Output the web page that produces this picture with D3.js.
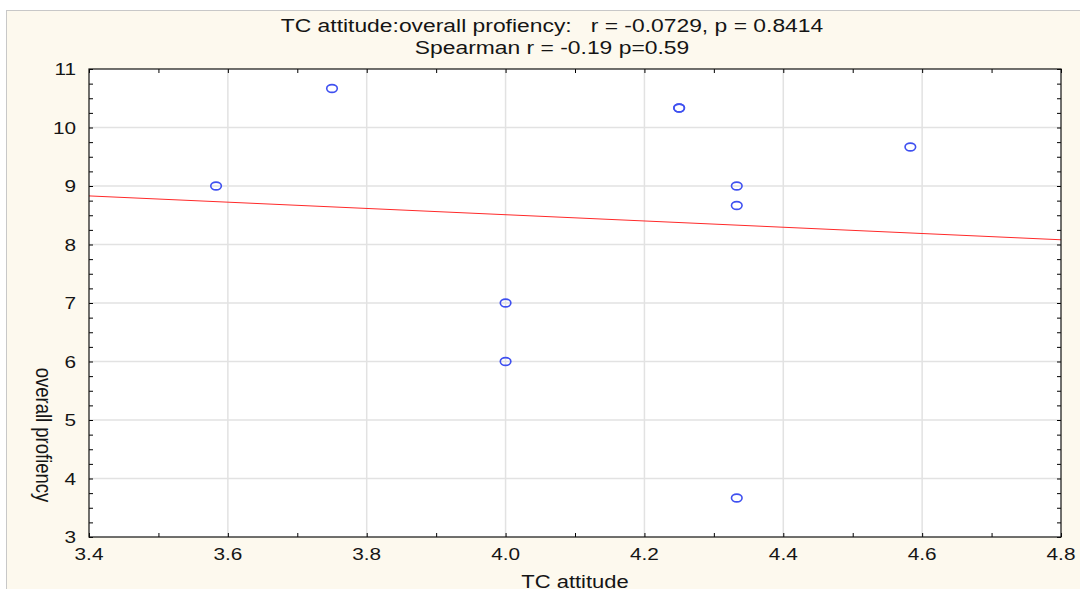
<!DOCTYPE html>
<meta charset="utf-8">
<head>
  <title>TC attitude vs overall profiency</title>
</head>
<style>
  body { margin: 0; background: #fff; }
  text { font-family: "Liberation Sans", Arial, sans-serif; fill: #151515; white-space: pre; }
</style>
<body>
  <div id="my_dataviz"></div>
  <script src="https://d3js.org/d3.v7.min.js"></script>
  <script>

  // data (10 subjects, one point drawn twice)
  var tcAttitude = [3.583, 3.75, 4.25, 4.25, 4.583, 4.333, 4.333, 4.0, 4.0, 4.333];
  var proficiency = [9, 10.667, 10.333, 10.333, 9.667, 9, 8.667, 7, 6, 3.667];
  var xTicks = [3.4, 3.6, 3.8, 4.0, 4.2, 4.4, 4.6, 4.8];
  var yTicks = [3, 4, 5, 6, 7, 8, 9, 10, 11];
  var titleLines = ["TC attitude:overall profiency:   r = -0.0729, p = 0.8414",
                    "Spearman r = -0.19 p=0.59"];

  var W = 1080, H = 589;
  var margin = {top: 69, right: 19, bottom: 52, left: 89},
      width = W - margin.left - margin.right,
      height = H - margin.top - margin.bottom;

  // the original picture is stretched sideways, so text is too
  var stretch = 1.3;

  var svgRoot = d3.select("#my_dataviz").append("svg")
      .attr("width", W).attr("height", H);

  // cream panel
  svgRoot.append("rect")
      .attr("x", 6.5).attr("y", 10.5).attr("width", W).attr("height", H)
      .attr("fill", "#fdf9ee").attr("stroke", "#c8c8c8");

  var svg = svgRoot.append("g")
      .attr("transform", "translate(" + margin.left + "," + margin.top + ")");

  var x = d3.scaleLinear().domain([3.4, 4.8]).range([0, width]);
  var y = d3.scaleLinear().domain([3, 11]).range([height, 0]);

  svg.append("rect").attr("width", width).attr("height", height).attr("fill", "#fff");

  // grid
  svg.append("g").selectAll("line").data(xTicks.slice(1, -1)).enter().append("line")
      .attr("x1", d => x(d)).attr("x2", d => x(d)).attr("y1", 0).attr("y2", height)
      .attr("stroke", "#e2e2e2").attr("stroke-width", 1.5);
  svg.append("g").selectAll("line").data(yTicks.slice(1, -1)).enter().append("line")
      .attr("y1", d => y(d)).attr("y2", d => y(d)).attr("x1", 0).attr("x2", width)
      .attr("stroke", "#e2e2e2").attr("stroke-width", 1.5);

  // regression line (least squares on the data)
  var mx = d3.mean(tcAttitude), my = d3.mean(proficiency);
  var sxy = d3.sum(tcAttitude, (d, i) => (d - mx) * (proficiency[i] - my));
  var sxx = d3.sum(tcAttitude, d => (d - mx) * (d - mx));
  var slope = sxy / sxx, icpt = my - slope * mx;
  svg.append("line")
      .attr("x1", x(3.4)).attr("y1", y(icpt + slope * 3.4))
      .attr("x2", x(4.8)).attr("y2", y(icpt + slope * 4.8))
      .attr("stroke", "#ff2a2a").attr("stroke-width", 1);

  // points
  svg.append("g").selectAll("ellipse").data(tcAttitude).enter().append("ellipse")
      .attr("cx", d => x(d)).attr("cy", (d, i) => y(proficiency[i]))
      .attr("rx", 5.3).attr("ry", 3.9)
      .attr("fill", "none").attr("stroke", "#3f50f0").attr("stroke-width", 1.6);

  // axes with inward ticks on all four sides
  var xMinor = d3.range(34, 49).map(d => d / 10);
  var yMinor = d3.range(12, 45).map(d => d / 4);
  function inner(g) { g.select(".domain").remove(); }
  svg.append("g").attr("transform", "translate(0," + height + ")")
      .call(d3.axisTop(x).tickValues(xMinor).tickSize(4).tickFormat(""))
      .call(inner);
  svg.append("g")
      .call(d3.axisBottom(x).tickValues(xMinor).tickSize(4).tickFormat(""))
      .call(inner);
  svg.append("g")
      .call(d3.axisRight(y).tickValues(yMinor).tickSize(4).tickFormat(""))
      .call(inner);
  svg.append("g").attr("transform", "translate(" + width + ",0)")
      .call(d3.axisLeft(y).tickValues(yMinor).tickSize(4).tickFormat(""))
      .call(inner);

  svg.append("rect").attr("width", width).attr("height", height)
      .attr("fill", "none").attr("stroke", "#111").attr("stroke-width", 1.2);

  // tick labels
  svg.append("g").selectAll("text").data(xTicks).enter().append("text")
      .attr("transform", d => "translate(" + x(d) + "," + (height + 23) + ") scale(" + stretch + ",1.05)")
      .attr("text-anchor", "middle").style("font-size", "16px")
      .text(d => d3.format(".1f")(d));
  svg.append("g").selectAll("text").data(yTicks).enter().append("text")
      .attr("transform", d => "translate(-13," + (y(d) + 6) + ") scale(" + stretch + ",1.05)")
      .attr("text-anchor", "end").style("font-size", "16px")
      .text(d => d);

  // titles
  svgRoot.selectAll(".title").data(titleLines).enter().append("text")
      .attr("class", "title")
      .attr("transform", (d, i) => "translate(552," + (31.5 + i * 22) + ") scale(1.27,1.05)")
      .attr("text-anchor", "middle").style("font-size", "18px")
      .text(d => d);

  svgRoot.append("text")
      .attr("transform", "translate(575,588) scale(1.22,1.05)")
      .attr("text-anchor", "middle").style("font-size", "18px")
      .text("TC attitude");
  svgRoot.append("text")
      .attr("transform", "translate(36,435) rotate(90) scale(1,1.2)")
      .attr("text-anchor", "middle").style("font-size", "18.5px")
      .text("overall profiency");

  </script>
</body>
</html>
